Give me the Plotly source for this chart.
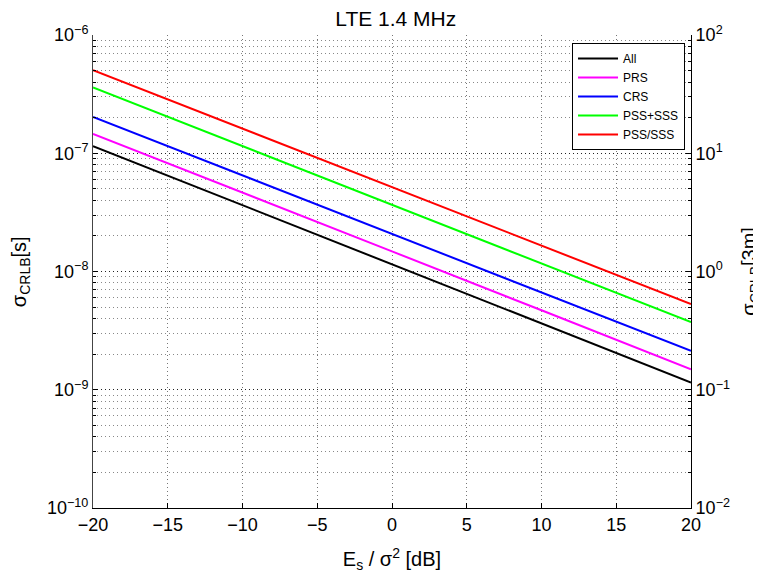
import plotly.graph_objects as go

# SNR points (dB) and read-off CRLB values (s)
snr_db = [-20, -10, 0, 10, 20]
crlb_all = [1.15e-7, 3.63e-8, 1.15e-8, 3.63e-9, 1.15e-9]
crlb_prs = [1.46e-7, 4.67e-8, 1.48e-8, 4.7e-9, 1.49e-9]
crlb_crs = [2.03e-7, 6.5e-8, 2.08e-8, 6.6e-9, 2.13e-9]
crlb_pss_plus_sss = [3.6e-7, 1.15e-7, 3.67e-8, 1.17e-8, 3.73e-9]
crlb_pss_or_sss = [5.05e-7, 1.62e-7, 5.18e-8, 1.66e-8, 5.3e-9]

series_names = ['All', 'PRS', 'CRS', 'PSS+SSS', 'PSS/SSS']
series_values = [crlb_all, crlb_prs, crlb_crs, crlb_pss_plus_sss, crlb_pss_or_sss]
series_colors = ['#000000', '#ff00ff', '#0000ff', '#00ff00', '#ff0000']

x_ticks = [-20, -15, -10, -5, 0, 5, 10, 15, 20]
left_exps = [-10, -9, -8, -7, -6]
right_exps = [-2, -1, 0, 1, 2]

font_family = 'Liberation Sans, Arial, sans-serif'


def pow_label(e):
    s = str(e).replace('-', '−')
    return '10<sup>' + s + '</sup>'


fig = go.Figure()
for name, vals, col in zip(series_names, series_values, series_colors):
    fig.add_trace(go.Scatter(x=snr_db, y=vals, mode='lines', name=name,
                             line=dict(color=col, width=2)))

# dummy trace so the right-hand axis gets drawn
fig.add_trace(go.Scatter(x=[None], y=[None], yaxis='y2', showlegend=False, hoverinfo='skip'))

minor_left = [m * 10 ** e for e in range(-10, -6) for m in range(2, 10)]
minor_right = [m * 10.0 ** e for e in range(-2, 2) for m in range(2, 10)]

dots = '1px,3px'

# page body has an 8px margin, so the figure is a bit smaller than the window
fig.update_layout(
    width=753, height=569,
    margin=dict(l=85, r=70, t=27, b=69),
    paper_bgcolor='white', plot_bgcolor='white',
    font=dict(family=font_family, size=18, color='black'),
    title=dict(text='LTE 1.4 MHz', x=0.515, xanchor='center', y=0.981, yanchor='middle',
               font=dict(size=21)),
    xaxis=dict(range=[-20, 20], tickvals=x_ticks,
               ticktext=[str(v).replace('-', '−') for v in x_ticks],
               showline=True, linecolor='black', linewidth=1, mirror=False,
               ticks='inside', ticklen=5, tickcolor='black',
               showgrid=True, gridcolor='#777777', griddash=dots, gridwidth=1,
               zeroline=False, tickfont=dict(size=18), automargin=False,
               title=dict(text='E<sub>s</sub> / σ<sup>2</sup> [dB]', font=dict(size=20), standoff=18)),
    yaxis=dict(type='log', range=[-10, -6],
               tickvals=[10.0 ** e for e in left_exps],
               ticktext=[pow_label(e) for e in left_exps],
               showline=True, linecolor='#444444', linewidth=1,
               ticks='inside', ticklen=5, tickcolor='black',
               showgrid=True, gridcolor='#222222', griddash=dots, gridwidth=1,
               zeroline=False, tickfont=dict(size=18), automargin=False,
               minor=dict(tickvals=minor_left, ticks='inside', ticklen=3, tickcolor='black',
                          showgrid=True, gridcolor='#888888', griddash=dots, gridwidth=1)),
    yaxis2=dict(type='log', range=[-2, 2],
                tickvals=[10.0 ** e for e in right_exps],
                ticktext=[pow_label(e) for e in right_exps],
                overlaying='y', side='right', anchor='x',
                showline=True, linecolor='black', linewidth=1,
                ticks='inside', ticklen=5, tickcolor='black',
                showgrid=False, zeroline=False, tickfont=dict(size=18), automargin=False,
                minor=dict(tickvals=minor_right, ticks='inside', ticklen=3, tickcolor='black',
                           showgrid=False)),
    legend=dict(x=0.99, xanchor='right', y=0.983, yanchor='top',
                bgcolor='white', bordercolor='black', borderwidth=1,
                font=dict(size=12), tracegroupgap=0, itemwidth=40),
    showlegend=True,
)

# y-axis titles as rotated annotations so the plot area keeps its size
fig.add_annotation(text='σ<sub>CRLB</sub>[s]', xref='paper', yref='paper',
                   x=-0.121, y=0.5, xanchor='center', yanchor='middle',
                   textangle=-90, showarrow=False, font=dict(size=20))
fig.add_annotation(text='σ<sub>CRLB</sub>[3m]', xref='paper', yref='paper',
                   x=1.099, y=0.5, xanchor='center', yanchor='middle',
                   textangle=-90, showarrow=False, font=dict(size=20))

fig.write_html('out.html')
